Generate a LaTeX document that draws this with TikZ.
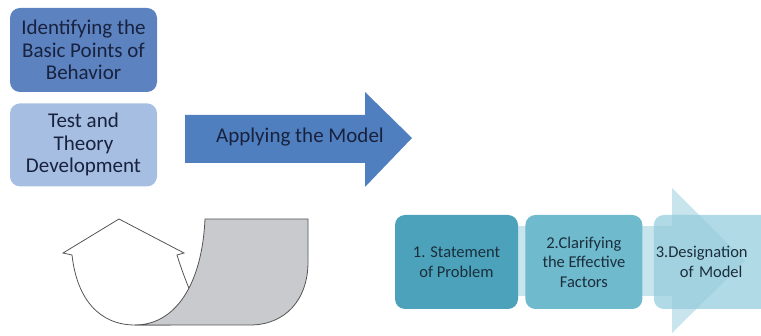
\documentclass[tikz,border=0pt]{standalone}
\usepackage{fontspec}
\setmainfont{Carlito}
\usetikzlibrary{positioning}
\definecolor{topblue}{RGB}{92,130,192}
\definecolor{paleblue}{RGB}{166,190,226}
\definecolor{arrowblue}{RGB}{80,127,191}
\definecolor{navytext}{RGB}{24,34,62}
\definecolor{tealA}{RGB}{76,162,186}
\definecolor{tealB}{RGB}{112,186,205}
\definecolor{tealC}{RGB}{150,205,220}
\definecolor{tealbg}{RGB}{200,228,237}
\definecolor{tealtext}{RGB}{26,46,60}
\definecolor{bendgrey}{RGB}{200,202,205}
\definecolor{edgegrey}{RGB}{85,85,85}

\begin{document}
\begin{tikzpicture}[x=1pt,y=-1pt,
	leftbox/.style={rounded corners=10pt, minimum width=147pt, align=center,
		text=navytext, font=\fontsize{21}{22.5}\selectfont},
	procbox/.style={rounded corners=10pt, minimum height=94pt, align=center,
		text=tealtext, font=\fontsize{16.5}{19.5}\selectfont}]
		\useasboundingbox (0,0) rectangle (761,336);
		\clip (0,0) rectangle (761,336);
		% left column
		\node[leftbox, fill=topblue, minimum height=84pt] (basic) at (83.5,50)
			{Identifying the\\Basic Points of\\Behavior};
		\node[leftbox, fill=paleblue, minimum height=83pt, below=11pt of basic] (test)
			{Test and\\Theory\\Development};
		% big arrow
		\coordinate (A1) at (185,115);
		\coordinate (A2) at (365,115);
		\coordinate (A3) at (365,92);
		\coordinate (A4) at (412,138);
		\coordinate (A5) at (365,187);
		\coordinate (A6) at (365,163);
		\coordinate (A7) at (185,163);
		\fill[arrowblue] (A1) -- (A2) -- (A3) -- (A4) -- (A5) -- (A6) -- (A7) -- cycle;
		\node[text=navytext, font=\fontsize{21}{22.5}\selectfont] (apply) at (300,137)
			{Applying the Model};
		% turning arrow
		\draw[edgegrey, fill=white, line width=0.8pt, line join=miter]
			(135,325) .. controls (100,325) and (77,300) .. (72,255)
			-- (63,253) -- (119,219) -- (184,253) -- (177,255)
			.. controls (181,268) and (186,282) .. (196,305) -- (170,325) -- cycle;
		\draw[edgegrey, fill=bendgrey, line width=0.8pt]
			(205,219) -- (308,219) -- (308,262)
			.. controls (308,300) and (285,325) .. (250,325) -- (135,325)
			.. controls (175,325) and (202,285) .. (205,219) -- cycle;
		% process
		\fill[tealbg] (400,226) rectangle (672,296);
		\fill[tealbg] (672,188) -- (745,261) -- (672,333) -- cycle;
		\node[procbox, fill=tealA, minimum width=123pt] (prob) at (456.5,262)
			{1. Statement\\of Problem};
		\node[procbox, fill=tealB, minimum width=117pt, right=7pt of prob] (fact)
			{2.Clarifying\\the Effective\\Factors};
		\node[procbox, fill=tealC, fill opacity=0.75, text opacity=1, minimum width=130pt,
			right=11pt of fact, inner xsep=2pt, text width=126pt, align=left] (model)
			{3.Designation\\\hspace*{24pt}of Model};
	\end{tikzpicture}
\end{document}
